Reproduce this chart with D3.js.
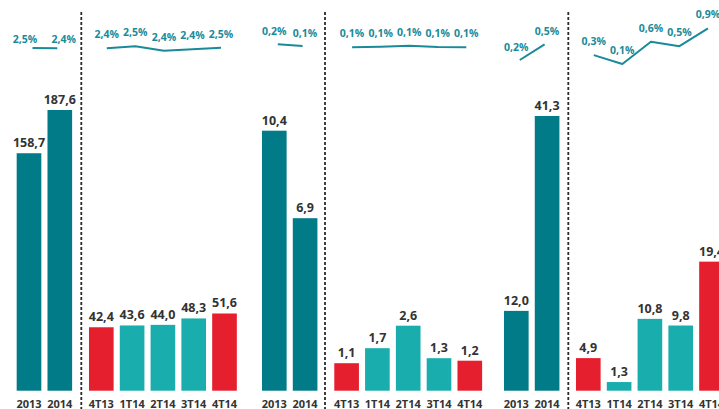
<!DOCTYPE html>
<html>
<head>
<meta charset="utf-8">
<script src="https://cdn.jsdelivr.net/npm/d3@7"></script>
<style>
  html, body { margin: 0; padding: 0; background: #fff; }
  svg { display: block; font-family: "Open Sans", sans-serif; }
</style>
</head>
<body>
<div id="chart"></div>
<script>
// categories
const yearCats = ["2013", "2014"];
const quarterCats = ["4T13", "1T14", "2T14", "3T14", "4T14"];

// bar values per panel
const p1Years = [158.7, 187.6];
const p1Quarters = [42.4, 43.6, 44.0, 48.3, 51.6];
const p2Years = [10.4, 6.9];
const p2Quarters = [1.1, 1.7, 2.6, 1.3, 1.2];
const p3Years = [12.0, 41.3];
const p3Quarters = [4.9, 1.3, 10.8, 9.8, 19.4];

// percentage lines and their printed labels
const p1YearPct = [2.45, 2.44];
const p1YearPctLabels = ["2,5%", "2,4%"];
const p1QuarterPct = [2.44, 2.51, 2.36, 2.41, 2.46];
const p1QuarterPctLabels = ["2,4%", "2,5%", "2,4%", "2,4%", "2,5%"];
const p2YearPct = [0.21, 0.12];
const p2YearPctLabels = ["0,2%", "0,1%"];
const p2QuarterPct = [0.06, 0.09, 0.14, 0.07, 0.06];
const p2QuarterPctLabels = ["0,1%", "0,1%", "0,1%", "0,1%", "0,1%"];
const p3YearPct = [0.19, 0.54];
const p3YearPctLabels = ["0,2%", "0,5%"];
const p3QuarterPct = [0.3, 0.1, 0.6, 0.5, 0.9];
const p3QuarterPctLabels = ["0,3%", "0,1%", "0,6%", "0,5%", "0,9%"];

// quarter colour: red for 4T quarters
const quarterKind = ["hi", "lo", "lo", "lo", "hi"];

const width = 719, height = 409;
const baseY = 390.7;
const step = 30.8;

const colors = {
  year: "#007b87",
  lo: "#1aadad",
  hi: "#e61f2e",
  line: "#1a8a99",
  text: "#333333"
};

const fmt = v => d3.format(".1f")(v).replace(".", ",");

const svg = d3.select("#chart").append("svg")
    .attr("width", width)
    .attr("height", height);

const panels = [
  { yMax: 200.5, pct: [2.0, 3.0], pctRange: [61.5, 31.5],
    years: p1Years, quarters: p1Quarters,
    yearPct: p1YearPct, yearPctLabels: p1YearPctLabels,
    quarterPct: p1QuarterPct, quarterPctLabels: p1QuarterPctLabels,
    yearStart: 13.6, quarterStart: 85.9, divider: 81.3, yearLabelDy: -5 },
  { yMax: 12, pct: [0, 1], pctRange: [48.5, 28.5],
    years: p2Years, quarters: p2Quarters,
    yearPct: p2YearPct, yearPctLabels: p2YearPctLabels,
    quarterPct: p2QuarterPct, quarterPctLabels: p2QuarterPctLabels,
    yearStart: 258.9, quarterStart: 331.2, divider: 325, yearLabelDy: -9.5 },
  { yMax: 45.1, pct: [0, 1], pctRange: [68.5, 23.9],
    years: p3Years, quarters: p3Quarters,
    yearPct: p3YearPct, yearPctLabels: p3YearPctLabels,
    quarterPct: p3QuarterPct, quarterPctLabels: p3QuarterPctLabels,
    yearStart: 500.9, quarterStart: 572.9, divider: 568.3, yearLabelDy: -9 }
];

panels.forEach((p, pi) => {
  const g = svg.append("g");
  const y = d3.scaleLinear().domain([0, p.yMax]).range([baseY, baseY - 300]);
  const yPct = d3.scaleLinear().domain(p.pct).range(p.pctRange);

  const groups = [
    { cats: yearCats, vals: p.years, pct: p.yearPct, pctLabels: p.yearPctLabels,
      start: p.yearStart, color: () => colors.year, inset: [3.5, 2.5], labelAtBar: true,
      labelDy: p.yearLabelDy, spread: pi === 0 ? 4 : 0 },
    { cats: quarterCats, vals: p.quarters, pct: p.quarterPct, pctLabels: p.quarterPctLabels,
      start: p.quarterStart, color: (d, i) => colors[quarterKind[i]], inset: [5.5, 3.5], labelAtBar: false,
      labelDy: -10, spread: 0 }
  ];

  groups.forEach(grp => {
    const x = d3.scaleBand()
        .domain(grp.cats)
        .range([grp.start, grp.start + grp.cats.length * step])
        .paddingInner(0.2)
        .paddingOuter(0.1);
    const rows = grp.cats.map((c, i) => ({ c, v: grp.vals[i], p: grp.pct[i], pl: grp.pctLabels[i], i }));

    g.append("g").selectAll("rect")
      .data(rows)
      .join("rect")
        .attr("x", d => x(d.c))
        .attr("width", x.bandwidth())
        .attr("y", d => y(d.v))
        .attr("height", d => baseY - y(d.v))
        .attr("fill", d => grp.color(d, d.i));

    // value labels
    g.append("g").selectAll("text")
      .data(rows)
      .join("text")
        .attr("x", d => x(d.c) + x.bandwidth() / 2)
        .attr("y", d => y(d.v) - 6)
        .attr("text-anchor", "middle")
        .style("font-size", "12.5px")
        .style("font-weight", 700)
        .style("fill", colors.text)
        .text(d => fmt(d.v));

    // category labels
    g.append("g").selectAll("text")
      .data(rows)
      .join("text")
        .attr("x", d => x(d.c) + x.bandwidth() / 2)
        .attr("y", 407.5)
        .attr("text-anchor", "middle")
        .style("font-size", "11px")
        .style("font-weight", 700)
        .style("fill", colors.text)
        .text(d => d.c);

    // percentage line
    const c0 = x(grp.cats[0]) + x.bandwidth() / 2;
    const c1 = x(grp.cats[grp.cats.length - 1]) + x.bandwidth() / 2;
    const xl = d3.scalePoint().domain(grp.cats).range([c0 + grp.inset[0], c1 - grp.inset[1]]);

    g.append("path")
      .datum(rows)
      .attr("fill", "none")
      .attr("stroke", colors.line)
      .attr("stroke-width", 2)
      .attr("stroke-linejoin", "round")
      .attr("d", d3.line().x(d => xl(d.c)).y(d => yPct(d.p)));

    g.append("g").selectAll("text")
      .data(rows)
      .join("text")
        .attr("x", d => grp.labelAtBar
          ? x(d.c) + x.bandwidth() / 2 + (d.i === 0 ? -grp.spread : grp.spread)
          : xl(d.c))
        .attr("y", d => yPct(d.p) + grp.labelDy)
        .attr("text-anchor", "middle")
        .style("font-size", "10.5px")
        .style("font-weight", 700)
        .style("fill", colors.line)
        .text(d => d.pl);
  });

  // dashed divider
  g.append("line")
    .attr("x1", p.divider).attr("x2", p.divider)
    .attr("y1", 12).attr("y2", height)
    .attr("stroke", "#2a2a2a")
    .attr("stroke-width", 1.8)
    .attr("stroke-dasharray", "3,2");
});
</script>
</body>
</html>
